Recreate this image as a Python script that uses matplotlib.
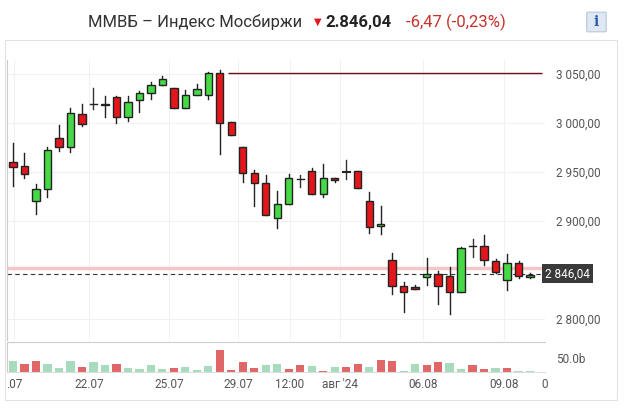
import matplotlib
matplotlib.use("Agg")
import matplotlib.pyplot as plt
from matplotlib.patches import Rectangle, FancyBboxPatch

opens  = [2960.2,2956.1,2920.4,2932.7,2984.7,2975.5,3009.2,3019.4,3019.4,3026.5,3006.1,3023.5,3030.6,3038.8,3035.7,3015.3,3028.6,3028.6,3051.0,3001.0,
          2975.5,2949.0,2938.8,2903.1,2917.3,2943.0,2951.0,2927.6,2943.9,2950.0,2951.0,2920.4,2894.9,2860.2,2833.7,2832.7,2842.9,2846.0,2843.9,2827.6,
          2874.5,2874.5,2859.2,2839.8,2857.1,2842.9]
closes = [2955.1,2948.0,2932.7,2972.4,2975.5,3010.2,2999.0,3019.0,3018.4,3006.1,3021.4,3030.6,3038.8,3044.9,3015.3,3028.6,3034.7,3051.0,3000.0,2987.8,
          2949.0,2938.8,2906.1,2917.3,2943.9,2942.5,2927.6,2943.9,2941.8,2949.5,2933.7,2893.9,2896.9,2833.7,2827.6,2830.6,2846.0,2833.7,2827.6,2872.4,
          2874.0,2860.2,2847.9,2857.1,2843.9,2844.9]
highs  = [2979.6,2969.4,2937.8,2975.5,2998.0,3015.3,3019.4,3035.7,3027.6,3027.6,3027.6,3032.7,3041.8,3048.0,3035.7,3033.7,3039.8,3052.0,3054.1,3001.0,
          2975.5,2952.0,2946.9,2930.6,2948.0,2946.9,2954.1,2958.2,2943.9,2962.2,2951.0,2929.6,2915.3,2867.3,2837.8,2834.7,2862.2,2849.0,2853.1,2873.5,
          2881.6,2885.7,2861.2,2866.3,2859.2,2846.9]
lows   = [2935.7,2943.9,2907.1,2924.5,2971.4,2970.4,2996.9,3014.3,3006.1,3000.0,3002.0,3011.2,3024.5,3038.8,3015.3,3015.3,3028.6,3024.5,2968.4,2987.8,
          2939.8,2915.3,2906.1,2892.9,2917.3,2934.7,2927.6,2924.5,2939.8,2942.9,2933.7,2887.8,2886.7,2825.5,2807.1,2830.6,2834.7,2815.3,2805.1,2827.6,
          2863.3,2855.1,2846.9,2829.6,2841.8,2841.8]
volumes = [39,30,39,30,14,39,18,36,24,30,14,10,24,10,14,18,7,21,80,7,36,14,24,30,10,26,21,4,18,18,30,18,44,39,4,30,26,36,33,10,26,10,14,14,4,3]
vol_up  = [1,0,0,1,1,1,0,1,1,0,1,1,1,1,0,1,1,1,0,0,0,0,1,1,0,0,1,0,1,0,0,1,0,0,1,1,0,0,1,1,0,0,1,0,1,1]
tick_pos = [0.1,6.6,13.6,19.6,24.1,28.5,35.7,42.7,46.3]
tick_lbl = [".07","22.07","25.07","29.07","12:00","авг '24","06.08","09.08","0"]
yticks = [2800,2900,2950,3000,3050]
last_price = 2846.04
resistance = 3051.0

RED = "#e3161b"; GREEN = "#45d945"
plt.rcParams['font.family'] = ['Roboto', 'DejaVu Sans']
fig = plt.figure(figsize=(6.24,4.08), dpi=100)
ax = fig.add_axes([7/624, 1-340/408, 538/624, 280/408])
axv = fig.add_axes([7/624, 1-372/408, 538/624, 30/408], sharex=ax)

for i,(o,c,h,l) in enumerate(zip(opens,closes,highs,lows)):
    if abs(c-o) < 1.0:
        ax.plot([i,i],[l,h],color="#333333",lw=1,zorder=3)
        ax.plot([i-0.3,i+0.3],[o,o],color="#222222",lw=1.5 if i in (8,29) else 1,zorder=3)
        continue
    col = GREEN if c>o else RED
    ax.plot([i,i],[l,h],color="#222222",lw=1,zorder=2)
    ax.add_patch(Rectangle((i-0.32,min(o,c)),0.64,abs(c-o),facecolor=col,edgecolor="#222222",lw=1,zorder=3))

ax.set_xlim(-0.52,46.0)
ax.set_ylim(2778.6,3064.3)
ax.hlines(resistance, 18.7, 46.0, color="#6b0f1a", lw=1, zorder=1)
ax.axhline(2852, color="#f6c6c6", lw=2.5, zorder=1)
ax.axhline(last_price, color="#333333", lw=0.8, ls=(0,(4,3)), zorder=1)
ax.set_yticks(yticks)
ax.yaxis.tick_right()
ax.set_yticklabels([f"{v:,}".replace(",", " ")+",00" for v in yticks], fontsize=8.5, color="#555555")
ax.tick_params(axis='y', length=0, pad=8)
ax.tick_params(axis='x', length=0, labelbottom=False)
ax.set_xticks(tick_pos)
ax.grid(True, color="#f1f1f1", lw=0.8)
ax.set_axisbelow(True)
for s in ["top","right","bottom"]:
    ax.spines[s].set_visible(False)
ax.spines["left"].set_color("#cccccc")
ax.text(46.3, last_price, "2 846,04", transform=ax.transData, fontsize=8.5, color="white", va="center", ha="left",
        bbox=dict(boxstyle="square,pad=0.25", fc="#3a3a3a", ec="none"), clip_on=False)

for i,(v,u) in enumerate(zip(volumes,vol_up)):
    axv.bar(i, v, width=0.72, color="#a6dcbd" if u else "#e06767")
axv.set_ylim(0,109)
axv.set_yticks([50]); axv.set_yticklabels(["50.0b"], fontsize=8.5, color="#555555")
axv.yaxis.tick_right()
axv.tick_params(axis='y', length=0, pad=8)
axv.set_xticks(tick_pos); axv.set_xticklabels(tick_lbl, fontsize=8.5, color="#555555")
axv.tick_params(axis='x', length=0, pad=4)
axv.spines["right"].set_visible(False)
axv.spines["left"].set_color("#cccccc")
axv.spines["top"].set_color("#cccccc")
axv.spines["bottom"].set_color("#dddddd")

fig.add_artist(Rectangle((5/624, 1-400/408), 612/624, 360/408, transform=fig.transFigure, fill=False, ec="#e2e2e2", lw=0.8))

fig.text(88/624, 1-22/408, "ММВБ – Индекс Мосбиржи", fontsize=12, color="#333333", va="center")
fig.text(314/624, 1-22/408, "▼", fontsize=7, color=RED, va="center", family=['DejaVu Sans'])
fig.text(325/624, 1-22/408, "2.846,04", fontsize=12, color="#222222", weight="bold", va="center")
fig.text(406/624, 1-22/408, "-6,47 (-0,23%)", fontsize=12, color="#c7322b", va="center")
fig.add_artist(FancyBboxPatch((588/624, 1-31/408), 17/624, 18/408, boxstyle="round,pad=0.002", transform=fig.transFigure, fc="#dfe7f2", ec="#b8c7dc", lw=0.8))
fig.text(596.5/624, 1-22/408, "i", fontsize=10, color="#2a5caa", weight="bold", ha="center", va="center", family=['DejaVu Serif'])

fig.savefig("out.png", dpi=100)
